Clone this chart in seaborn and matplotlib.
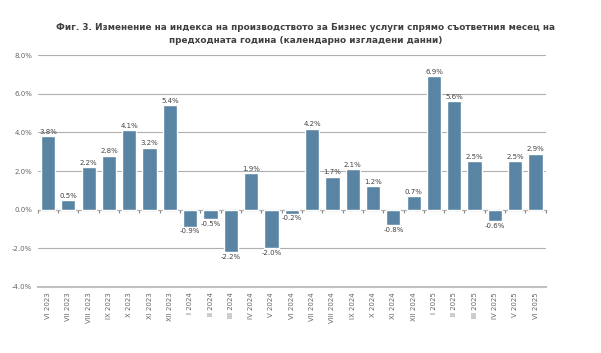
import matplotlib.pyplot as plt
import matplotlib.ticker as mticker
import seaborn as sns
import pandas as pd
import numpy as np

# месеци и стойности (%)
months = ["VI 2023", "VII 2023", "VIII 2023", "IX 2023", "X 2023", "XI 2023", "XII 2023",
          "I 2024", "II 2024", "III 2024", "IV 2024", "V 2024", "VI 2024", "VII 2024",
          "VIII 2024", "IX 2024", "X 2024", "XI 2024", "XII 2024",
          "I 2025", "II 2025", "III 2025", "IV 2025", "V 2025", "VI 2025"]
values = [3.8, 0.5, 2.2, 2.8, 4.1, 3.2, 5.4, -0.9, -0.5, -2.2, 1.9, -2.0, -0.2, 4.2,
          1.7, 2.1, 1.2, -0.8, 0.7, 6.9, 5.6, 2.5, -0.6, 2.5, 2.9]
title = ("Фиг. 3. Изменение на индекса на производството за Бизнес услуги спрямо съответния месец на\n"
         "предходната година (календарно изгладени данни)")

df = pd.DataFrame({"month": months, "value": values})

sns.set_style("white")
plt.rcParams['font.family'] = ['DejaVu Sans']

fig = plt.figure(figsize=(6.01, 3.53), dpi=100)
ax = fig.add_axes([0.063, 0.187, 0.845, 0.657])

sns.barplot(data=df, x="month", y="value", color="#5a84a3", saturation=1,
            width=0.7, ax=ax)

ax.set_ylim(-4, 8)
ax.set_xlim(-0.5, len(months) - 0.5)
ax.yaxis.set_major_locator(mticker.MultipleLocator(2))
ax.yaxis.set_major_formatter(mticker.FuncFormatter(lambda v, p: f"{v:.1f}%"))
ax.grid(axis="y", color="#b0b0b0", linewidth=0.8)
ax.set_axisbelow(True)
for s in ["top", "right", "left"]:
    ax.spines[s].set_visible(False)
ax.spines["bottom"].set_color("#c0c0c0")
ax.spines["bottom"].set_linewidth(1.5)
ax.set_xlabel("")
ax.set_ylabel("")
ax.tick_params(axis="y", length=0, labelsize=5, labelcolor="#666666", pad=4)
ax.tick_params(axis="x", length=0, labelsize=5, labelcolor="#666666", rotation=90, pad=4)

# нулева линия с малки чертички между категориите
zero = ax.secondary_xaxis(4 / 12)
zero.set_xticks(np.arange(len(months) + 1) - 0.5)
zero.set_xticklabels([])
zero.tick_params(length=2.5, color="#888888", width=0.8)
zero.spines["bottom"].set_color("#888888")
zero.spines["bottom"].set_linewidth(0.8)

for c in ax.containers:
    ax.bar_label(c, labels=[f"{v:.1f}%" for v in values], padding=1,
                 fontsize=5, color="#444444")

fig.suptitle(title, fontsize=6.4, fontweight="bold", color="#404040",
             y=0.935, x=0.508, linespacing=1.6)

fig.savefig("out.png", dpi=100)
